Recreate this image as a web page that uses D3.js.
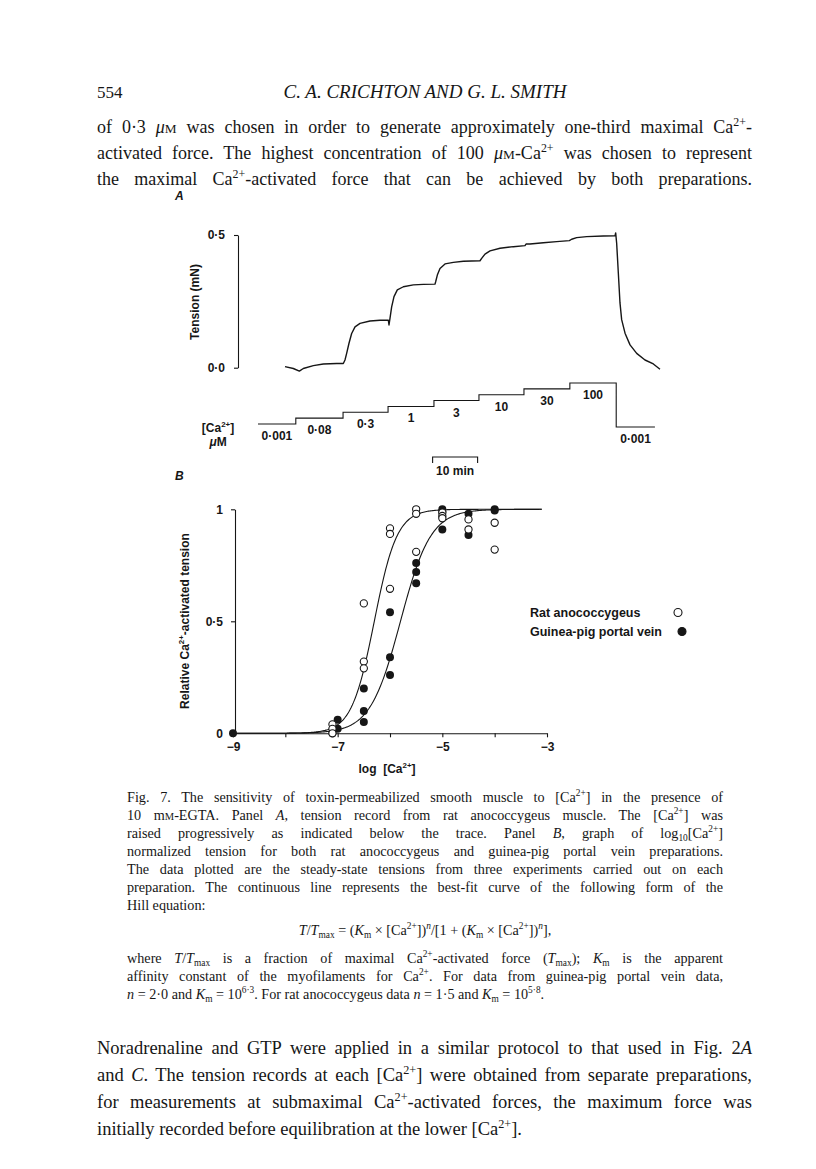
<!DOCTYPE html>
<html lang="en">
<head>
<meta charset="UTF-8">
<title>Fig. 7</title>
<script src="https://cdnjs.cloudflare.com/ajax/libs/d3/7.8.5/d3.min.js"></script>
<style>
  body { margin: 0; background: #fff; }
  svg { display: block; }
  .serif { font-family: "Liberation Serif", "DejaVu Serif", serif; fill: #161616; }
  .fig { font-family: "Liberation Sans", Arial, sans-serif; font-weight: bold; fill: #161616; }
</style>
</head>
<body>
<svg id="page" width="816" height="1169"></svg>
<script>
// ---- panel A: tension trace (time in min, tension in mN)
const traceTime = [0, 1.85, 3.19, 4.07, 6.3, 8.52, 11.48, 12.96, 13.33, 13.7, 14.22, 14.81, 15.56, 16.67,
  18.89, 21.11, 22.96, 23.11, 23.33, 23.7, 24.22, 24.96, 26.3, 28.52, 30.74, 33.33, 33.48, 33.85, 34.44,
  35.56, 37.41, 39.63, 43.33, 43.7, 44.44, 45.56, 47.78, 50.74, 53.33, 53.56, 54.44, 57.41, 60.37, 63.19,
  63.7, 64.81, 67.04, 70.74, 73.33, 73.48, 73.7, 74.07, 74.44, 74.81, 75.56, 76.67, 78.15, 80, 81.85, 83.33];
const traceTension = [0.004, -0.003, -0.013, -0.003, 0.008, 0.014, 0.016, 0.016, 0.029, 0.054, 0.092, 0.129,
  0.154, 0.167, 0.176, 0.179, 0.179, 0.161, 0.186, 0.229, 0.268, 0.293, 0.305, 0.312, 0.314, 0.315, 0.324,
  0.349, 0.374, 0.391, 0.397, 0.401, 0.403, 0.412, 0.428, 0.44, 0.45, 0.456, 0.46, 0.466, 0.466, 0.471,
  0.475, 0.479, 0.484, 0.49, 0.494, 0.496, 0.497, 0.508, 0.469, 0.357, 0.244, 0.181, 0.13, 0.086, 0.054,
  0.029, 0.014, -0.006];
const tensionTicks = [0, 0.5];
const tensionTickLabels = ["0·0", "0·5"];

// [Ca2+] protocol below the trace
const caStepStart = [-6, 2.4, 12.9, 22.9, 33.1, 43.1, 53.1, 63.3, 73.6];
const caStepEnd = 82.2;
const caLevel = [0, 1, 2, 3, 4, 5, 6, 7, -0.5];
const caLabels = ["0·001", "0·08", "0·3", "1", "3", "10", "30", "100", "0·001"];
const scaleBarStart = 32.8, scaleBarMinutes = 10;

// ---- panel B: relative tension vs log [Ca2+]
const ratPoints = [[-7.1, 0.04], [-7.1, 0.02], [-7.1, 0.0],
  [-6.5, 0.58], [-6.5, 0.32], [-6.5, 0.29],
  [-6, 0.915], [-6, 0.89], [-6, 0.645],
  [-5.5, 1.0], [-5.5, 0.98], [-5.5, 0.81],
  [-5, 0.985], [-5, 0.97], [-5, 0.96],
  [-4.5, 0.955], [-4.5, 0.91],
  [-4, 0.94], [-4, 0.82]];
const gpPoints = [[-9, 0], [-7.1, 0.0], [-7.0, 0.06], [-7.0, 0.02],
  [-6.5, 0.2], [-6.5, 0.1], [-6.5, 0.05],
  [-6, 0.54], [-6, 0.34], [-6, 0.26],
  [-5.5, 0.76], [-5.5, 0.72], [-5.5, 0.67],
  [-5, 1.0], [-5, 0.99], [-5, 0.91],
  [-4.5, 0.98], [-4.5, 0.885],
  [-4, 1.0], [-4, 0.995]];
const hillFits = [{ n: 2.0, logK: 6.3 }, { n: 1.5, logK: 5.8 }];
const logTicks = [-9, -8, -7, -6, -5, -4, -3];
const relTicks = [0, 0.5, 1];
const relTickLabels = ["0", "0·5", "1"];
const legendItems = [{ label: "Rat anococcygeus", filled: false }, { label: "Guinea-pig portal vein", filled: true }];

// ---- page text
const headerPage = "554";
const headerTitle = "C. A. CRICHTON AND G. L. SMITH";
const topLines = [
  "of 0·3 *μ*%{M} was chosen in order to generate approximately one-third maximal Ca^{2+}-",
  "activated force. The highest concentration of 100 *μ*%{M}-Ca^{2+} was chosen to represent",
  "the maximal Ca^{2+}-activated force that can be achieved by both preparations."
];
const captionLines = [
  "Fig. 7. The sensitivity of toxin-permeabilized smooth muscle to [Ca^{2+}] in the presence of",
  "10 m%{M}-EGTA. Panel *A*, tension record from rat anococcygeus muscle. The [Ca^{2+}] was",
  "raised progressively as indicated below the trace. Panel *B*, graph of log_{10}[Ca^{2+}]",
  "normalized tension for both rat anococcygeus and guinea-pig portal vein preparations.",
  "The data plotted are the steady-state tensions from three experiments carried out on each",
  "preparation. The continuous line represents the best-fit curve of the following form of the",
  "Hill equation:"
];
const equation = "*T*/*T*_{max} = (*K*_{m} × [Ca^{2+}])^{*n*}/[1 + (*K*_{m} × [Ca^{2+}])^{*n*}],";
const whereLines = [
  "where *T*/*T*_{max} is a fraction of maximal Ca^{2+}-activated force (*T*_{max}); *K*_{m} is the apparent",
  "affinity constant of the myofilaments for Ca^{2+}. For data from guinea-pig portal vein data,",
  "*n* = 2·0 and *K*_{m} = 10^{6·3}. For rat anococcygeus data *n* = 1·5 and *K*_{m} = 10^{5·8}."
];
const bottomLines = [
  "Noradrenaline and GTP were applied in a similar protocol to that used in Fig. 2*A*",
  "and *C*. The tension records at each [Ca^{2+}] were obtained from separate preparations,",
  "for measurements at submaximal Ca^{2+}-activated forces, the maximum force was",
  "initially recorded before equilibration at the lower [Ca^{2+}]."
];

const svg = d3.select("#page");

// text with *italic*, ^{sup}, _{sub}, %{small caps}; optional justify width
function rich(parent, str, o) {
  const t = parent.append("text")
    .attr("x", o.x).attr("y", o.y)
    .attr("class", o.cls || "serif")
    .style("font-size", o.size + "px")
    .style("white-space", "pre");
  if (o.anchor) t.attr("text-anchor", o.anchor);
  if (o.transform) t.attr("transform", o.transform);
  let italic = !!o.italic, shift = 0;
  const parts = str.split(/(\^\{[^}]*\}|_\{[^}]*\}|%\{[^}]*\}|\*)/).filter(s => s !== "");
  parts.forEach(p => {
    if (p === "*") { italic = !italic; return; }
    let kind = "", txt = p, it = italic;
    const m = p.match(/^([\^_%])\{(.*)\}$/);
    if (m) {
      kind = m[1]; txt = m[2];
      const mi = txt.match(/^\*(.*)\*$/);
      if (mi) { txt = mi[1]; it = true; }
    }
    const want = kind === "^" ? -0.4 * o.size : kind === "_" ? 0.22 * o.size : 0;
    const ts = t.append("tspan").text(txt);
    if (want !== shift) { ts.attr("dy", want - shift); shift = want; }
    if (it) ts.style("font-style", "italic");
    if (kind === "^" || kind === "_") ts.style("font-size", (0.66 * o.size) + "px");
    if (kind === "%") ts.style("font-size", (0.74 * o.size) + "px");
  });
  if (o.width) {
    const spaces = (t.text().match(/ /g) || []).length;
    const len = t.node().getComputedTextLength();
    if (spaces) t.style("word-spacing", ((o.width - len) / spaces) + "px");
  }
  return t;
}

// ---------- header and paragraphs
svg.append("text").attr("class", "serif").attr("x", 97).attr("y", 98)
  .style("font-size", "17px").text(headerPage);
rich(svg, "*" + headerTitle + "*", { x: 425, y: 98, size: 19, anchor: "middle" });

topLines.forEach((l, i) => rich(svg, l, { x: 97, y: 133 + i * 26, size: 18, width: 655 }));

captionLines.forEach((l, i) => rich(svg, l, {
  x: 127, y: 802 + i * 18, size: 14.2, width: i < captionLines.length - 1 ? 596 : null
}));
rich(svg, equation, { x: 425, y: 935, size: 14.2, anchor: "middle" });
whereLines.forEach((l, i) => rich(svg, l, {
  x: 127, y: 963 + i * 18, size: 14.2, width: i < whereLines.length - 1 ? 596 : null
}));
bottomLines.forEach((l, i) => rich(svg, l, {
  x: 97, y: 1054 + i * 27, size: 18.5, width: i < bottomLines.length - 1 ? 655 : null
}));

// ---------- panel A
const gA = svg.append("g");
const xT = d3.scaleLinear().domain([0, 83.33]).range([285, 660]);
const yT = d3.scaleLinear().domain([0, 0.5]).range([367.7, 235]);

gA.append("text").attr("class", "fig").attr("x", 175).attr("y", 200)
  .style("font-size", "12px").style("font-style", "italic").text("A");

gA.append("g").attr("transform", "translate(238,0)")
  .call(d3.axisLeft(yT).tickValues(tensionTicks).tickSize(4).tickSizeOuter(0).tickPadding(9)
    .tickFormat((d, i) => tensionTickLabels[i]))
  .call(g => g.selectAll("path,line").attr("stroke", "#161616").attr("stroke-width", 1.1))
  .call(g => g.selectAll("text").attr("class", "fig").style("font-size", "12px"));

rich(gA, "Tension (mN)", { x: 0, y: 0, size: 12, cls: "fig", anchor: "middle",
  transform: "translate(199,302) rotate(-90)" });

gA.append("path")
  .datum(traceTime.map((t, i) => [t, traceTension[i]]))
  .attr("fill", "none").attr("stroke", "#161616").attr("stroke-width", 1.4)
  .attr("stroke-linejoin", "round")
  .attr("d", d3.line().x(d => xT(d[0])).y(d => yT(d[1])));

// [Ca2+] step line
const yCa = d3.scaleLinear().domain([0, 7]).range([424, 383]);
const steps = caStepStart.map((t, i) => [t, caLevel[i]]);
steps.push([caStepEnd, caLevel[caLevel.length - 1]]);
gA.append("path").datum(steps)
  .attr("fill", "none").attr("stroke", "#161616").attr("stroke-width", 1.1)
  .attr("d", d3.line().x(d => xT(d[0])).y(d => yCa(d[1])).curve(d3.curveStepAfter));

gA.selectAll("text.calab").data(caLabels).enter().append("text")
  .attr("class", "fig calab")
  .attr("x", (d, i) => xT((caStepStart[i] + (i < caStepStart.length - 1 ? caStepStart[i + 1] : caStepEnd)) / 2))
  .attr("y", (d, i) => yCa(caLevel[i]) + 16)
  .attr("text-anchor", "middle").style("font-size", "12px").text(d => d);

rich(gA, "[Ca^{2+}]", { x: 218, y: 432, size: 12, cls: "fig", anchor: "middle" });
rich(gA, "*μ*M", { x: 218, y: 446, size: 12, cls: "fig", anchor: "middle" });

// scale bar
const sb = gA.append("g");
sb.append("path")
  .attr("d", `M${xT(scaleBarStart)},463V457H${xT(scaleBarStart + scaleBarMinutes)}V463`)
  .attr("fill", "none").attr("stroke", "#161616").attr("stroke-width", 1.1);
sb.append("text").attr("class", "fig").attr("x", xT(scaleBarStart + scaleBarMinutes / 2)).attr("y", 475)
  .attr("text-anchor", "middle").style("font-size", "12px").text(scaleBarMinutes + " min");

// ---------- panel B
const gB = svg.append("g");
const xL = d3.scaleLinear().domain([-9, -3]).range([233, 547]);
const yR = d3.scaleLinear().domain([0, 1]).range([733.3, 509.3]);

gB.append("text").attr("class", "fig").attr("x", 175).attr("y", 480)
  .style("font-size", "12px").style("font-style", "italic").text("B");

gB.append("g").attr("transform", "translate(0,733.3)")
  .call(d3.axisBottom(xL).tickValues(logTicks).tickSize(4).tickSizeOuter(0).tickPadding(5)
    .tickFormat(d => (d % 2 ? "−" + Math.abs(d) : "")))
  .call(g => g.selectAll("path,line").attr("stroke", "#161616").attr("stroke-width", 1.1))
  .call(g => g.selectAll("text").attr("class", "fig").style("font-size", "12px"));

gB.append("g").attr("transform", "translate(235,0)")
  .call(d3.axisLeft(yR).tickValues(relTicks).tickSize(4).tickSizeOuter(0).tickPadding(8)
    .tickFormat((d, i) => relTickLabels[i]))
  .call(g => g.selectAll("path,line").attr("stroke", "#161616").attr("stroke-width", 1.1))
  .call(g => g.selectAll("text").attr("class", "fig").style("font-size", "12px"));

rich(gB, "Relative Ca^{2+}-activated tension", { x: 0, y: 0, size: 12, cls: "fig", anchor: "middle",
  transform: "translate(189,621) rotate(-90)" });
rich(gB, "log  [Ca^{2+}]", { x: 387, y: 773, size: 12, cls: "fig", anchor: "middle" });

// Hill fits
const hill = (x, f) => 1 / (1 + Math.pow(10, -f.n * (x + f.logK)));
const xs = d3.range(-9, -3.09, 0.02);
gB.selectAll("path.fit").data(hillFits).enter().append("path")
  .attr("class", "fit").attr("fill", "none").attr("stroke", "#161616").attr("stroke-width", 1.1)
  .attr("d", f => d3.line().x(x => xL(x)).y(x => yR(hill(x, f)))(xs));

gB.selectAll("circle.gp").data(gpPoints).enter().append("circle")
  .attr("class", "gp").attr("cx", d => xL(d[0])).attr("cy", d => yR(d[1])).attr("r", 4)
  .attr("fill", "#161616");
gB.selectAll("circle.rat").data(ratPoints).enter().append("circle")
  .attr("class", "rat").attr("cx", d => xL(d[0])).attr("cy", d => yR(d[1])).attr("r", 3.6)
  .attr("fill", "#fff").attr("stroke", "#161616").attr("stroke-width", 1.1);

// legend
const lg = gB.selectAll("g.leg").data(legendItems).enter().append("g")
  .attr("class", "leg").attr("transform", (d, i) => `translate(530,${617 + i * 19})`);
lg.append("text").attr("class", "fig").style("font-size", "12.5px").text(d => d.label);
lg.append("circle").attr("cx", (d, i) => (i ? 152 : 148)).attr("cy", -4.5).attr("r", 4)
  .attr("fill", d => (d.filled ? "#161616" : "#fff"))
  .attr("stroke", "#161616").attr("stroke-width", 1.1);
</script>
</body>
</html>
